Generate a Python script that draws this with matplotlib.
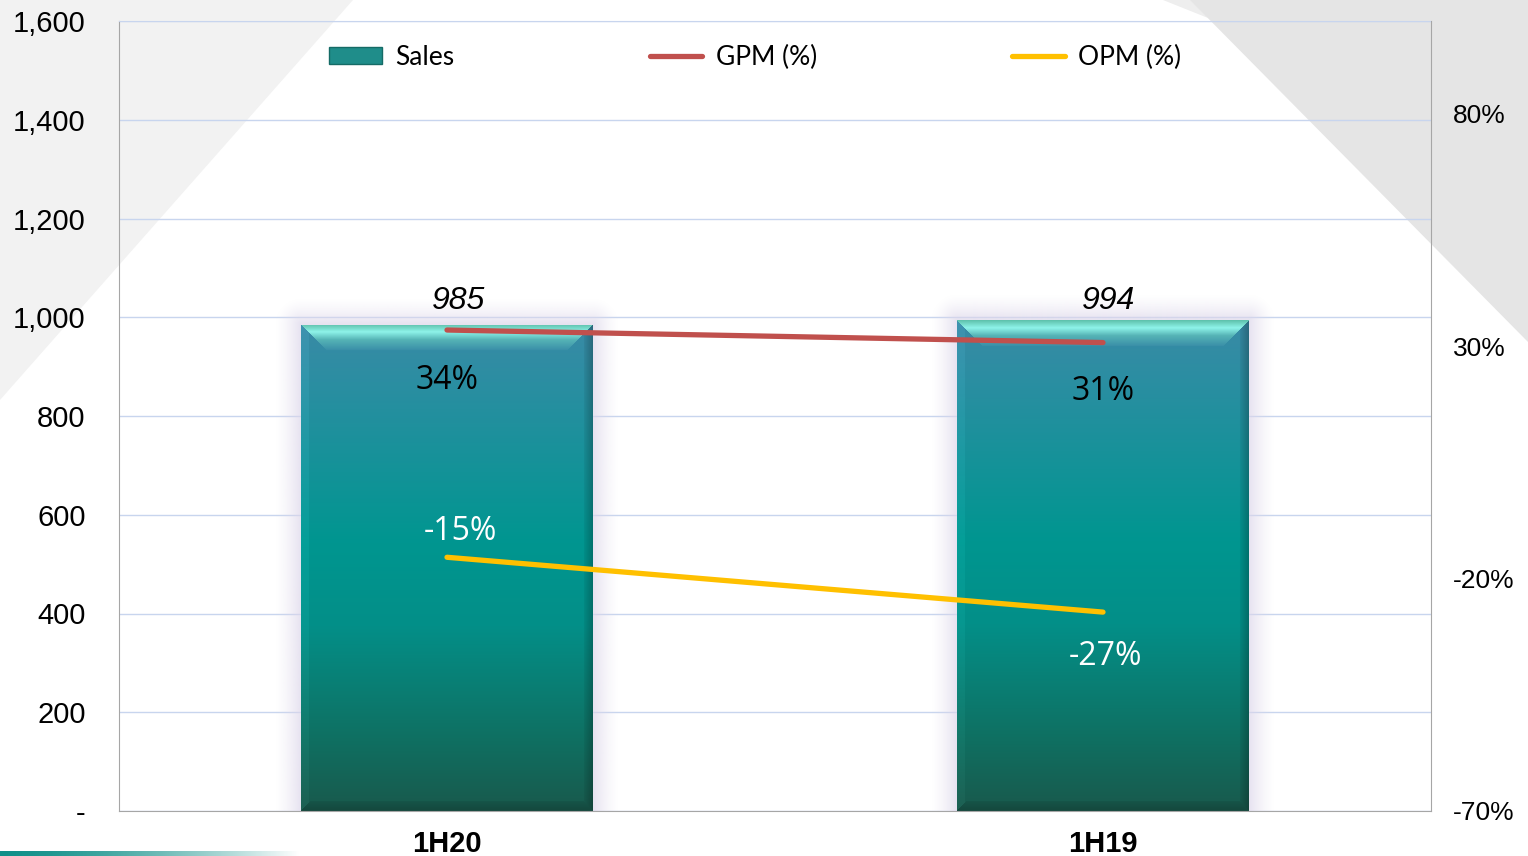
import numpy as np
import matplotlib
matplotlib.use("Agg")
import matplotlib.pyplot as plt
from matplotlib.patches import Polygon, Patch
from matplotlib.lines import Line2D
from matplotlib.colors import to_rgb
from matplotlib.ticker import FixedLocator, FuncFormatter

# ---------------- data ----------------
categories = ["1H20", "1H19"]
sales = [985, 994]
gpm = [33.5, 30.8]
opm = [-15.4, -27.2]
sales_labels = ["985", "994"]
gpm_labels = ["34%", "31%"]
opm_labels = ["-15%", "-27%"]
left_ticks = [0, 200, 400, 600, 800, 1000, 1200, 1400, 1600]
right_ticks = [-70, -20, 30, 80]
right_limits = [-70, 100]
legend_labels = ["Sales", "GPM (%)", "OPM (%)"]

# ---------------- styles ----------------
W, H = 1528, 856
AX_L, AX_R, AX_T, AX_B = 119, 1431, 21, 811
GPM_COLOR = "#c0504d"
OPM_COLOR = "#ffc000"
TICK_FONT = "Liberation Sans"
LABEL_FONT = "Open Sans"
LEGEND_FONT = "Lato"

fig = plt.figure(figsize=(W / 100, H / 100), dpi=100)
fig.patch.set_facecolor("white")

# ---------------- background decoration ----------------
bg = fig.add_axes([0, 0, 1, 1], zorder=-10)
bg.axis("off")
bg.add_patch(Polygon([(0, 0), (353, 0), (0, 400)], closed=True, fc="#f2f2f2", ec="none"))
bg.add_patch(Polygon([(1163, 0), (1195, 0), (1208, 18)], closed=True, fc="#eeeeee", ec="none"))
bg.add_patch(Polygon([(1190, 0), (W, 0), (W, 342)], closed=True, fc="#e5e5e5", ec="none"))
stripe = np.zeros((1, 300, 4))
stripe[..., :3] = to_rgb("#0f8f88")
stripe[..., 3] = np.clip(1 - np.linspace(0, 1, 300) ** 1.5, 0, 1)
bg.imshow(stripe, extent=(0, 300, 856, 851), aspect="auto", interpolation="bilinear")
bg.set_xlim(0, W)
bg.set_ylim(H, 0)

# ---------------- main axes ----------------
ax = fig.add_axes([AX_L / W, (H - AX_B) / H, (AX_R - AX_L) / W, (AX_B - AX_T) / H])
ax.set_facecolor("none")
ax.set_xlim(-0.5, 1.5)
ax.set_ylim(left_ticks[0], left_ticks[-1])
ax.set_axisbelow(True)
ax.yaxis.set_major_locator(FixedLocator(left_ticks))
ax.yaxis.set_major_formatter(FuncFormatter(lambda v, p: "-" if v == 0 else f"{int(v):,}"))
ax.grid(axis="y", color="#c8d5ee", lw=1)
ax.tick_params(axis="y", length=0, pad=24, labelsize=21)
ax.tick_params(axis="x", length=0, pad=14, labelsize=21)
x = np.arange(len(categories))
ax.set_xticks(x)
ax.set_xticklabels(categories, fontweight="bold")
for lab in ax.get_xticklabels() + ax.get_yticklabels():
    lab.set_fontfamily(TICK_FONT)
for s in ["left", "bottom"]:
    ax.spines[s].set_color("#a6a6a6")
ax.spines["top"].set_color("#c8d5ee")
ax.spines["right"].set_visible(False)

bars = ax.bar(x, sales, width=0.444, color="none", edgecolor="none", zorder=2)


def lerp_stops(t, stops):
    pos = np.array([s[0] for s in stops])
    cols = np.array([to_rgb(s[1]) for s in stops])
    out = np.zeros(t.shape + (3,))
    for c in range(3):
        out[..., c] = np.interp(t, pos, cols[:, c])
    return out


def bar_image(wpx, hpx):
    yy, xx = np.mgrid[0:hpx, 0:wpx] + 0.5
    t = yy / hpx
    body = lerp_stops(t, [(0, "#3a8aa6"), (0.12, "#2b8ea2"), (0.45, "#009690"),
                          (0.62, "#038f88"), (0.85, "#0f7062"), (1, "#19594c")])
    img = body.copy()
    b = 26.0
    dt, db, dl, dr = yy, hpx - yy, xx, wpx - xx
    m = np.minimum.reduce([dt, db, dl, dr])
    top = (dt == m) & (dt < b)
    s = dt / b
    topcol = lerp_stops(s, [(0, "#5cbfa9"), (0.3, "#8ef3e9"), (0.6, "#56b4b6"), (1, "#3a8fa8")])
    img[top] = topcol[top]
    left = (dl == m) & (dl < 8) & ~top
    img[left] = np.clip(body[left] * 1.03 + 0.015, 0, 1)
    right = (dr == m) & (dr < 9) & ~top
    img[right] = body[right] * (0.75 + 0.2 * (dr[right] / 9))[:, None]
    bot = (db == m) & (db < 10) & ~top
    img[bot] = body[bot] * (0.8 + 0.12 * (db[bot] / 10))[:, None]
    return img


def glow_image(wpx, hpx, mg):
    tw, th = wpx + 2 * mg, hpx + mg
    yy, xx = np.mgrid[0:th, 0:tw] + 0.5
    dx = np.maximum(np.maximum(mg - xx, xx - (mg + wpx)), 0)
    dy = np.maximum(mg - yy, 0)
    d = np.hypot(dx, dy)
    a = np.where(d > 0, 0.7 * np.clip(1 - d / mg, 0, 1) ** 1.4, 0.7)
    img = np.zeros((th, tw, 4))
    img[..., :3] = np.array([220, 214, 234]) / 255
    img[..., 3] = a
    return img


ppx = (AX_R - AX_L) / (ax.get_xlim()[1] - ax.get_xlim()[0])
ppy = (AX_B - AX_T) / (ax.get_ylim()[1] - ax.get_ylim()[0])
MG = 26
for b in bars:
    x0, w, h = b.get_x(), b.get_width(), b.get_height()
    wpx, hpx = int(round(w * ppx)), int(round(h * ppy))
    ax.imshow(glow_image(wpx, hpx, MG), extent=(x0 - MG / ppx, x0 + w + MG / ppx, 0, h + MG / ppy),
              aspect="auto", zorder=1.5, interpolation="bilinear")
    im = ax.imshow(bar_image(wpx, hpx), extent=(x0, x0 + w, 0, h), aspect="auto",
                   zorder=2, interpolation="bilinear")
    im.set_clip_path(b)
ax.set_xlim(-0.5, 1.5)
ax.set_ylim(left_ticks[0], left_ticks[-1])

# sales labels
sales_offsets = [(8, 17), (4, 14)]
for xi, v, lab, off in zip(x, sales, sales_labels, sales_offsets):
    ax.annotate(lab, (xi, v), xytext=off, textcoords="offset points", ha="center", va="center",
                fontsize=23, fontstyle="italic", fontfamily=TICK_FONT, color="black", zorder=5)

# ---------------- right axis ----------------
ax2 = ax.twinx()
ax2.set_ylim(*right_limits)
ax2.yaxis.set_major_locator(FixedLocator(right_ticks))
ax2.yaxis.set_major_formatter(FuncFormatter(lambda v, p: f"{int(v)}%"))
ax2.tick_params(axis="y", length=0, pad=16, labelsize=19)
for lab in ax2.get_yticklabels():
    lab.set_fontfamily(TICK_FONT)
for s in ["left", "bottom", "top"]:
    ax2.spines[s].set_visible(False)
ax2.spines["right"].set_color("#a6a6a6")

ax2.plot(x, gpm, color=GPM_COLOR, lw=3.8, solid_capstyle="round", zorder=3)
ax2.plot(x, opm, color=OPM_COLOR, lw=3.8, solid_capstyle="round", zorder=3)

gpm_offsets = [(0, -36.5), (0, -35.5)]
for xi, v, lab, off in zip(x, gpm, gpm_labels, gpm_offsets):
    ax2.annotate(lab, (xi, v), xytext=off, textcoords="offset points", ha="center", va="center",
                 fontsize=23, fontfamily=LABEL_FONT, color="black", zorder=5)
opm_offsets = [(10, 18.5), (1.5, -32)]
for xi, v, lab, off in zip(x, opm, opm_labels, opm_offsets):
    ax2.annotate(lab, (xi, v), xytext=off, textcoords="offset points", ha="center", va="center",
                 fontsize=23, fontfamily=LABEL_FONT, color="white", zorder=5)

handles = [Patch(fc="#1f8d8a", ec="#156b66", lw=1),
           Line2D([], [], color=GPM_COLOR, lw=3.8, solid_capstyle="round"),
           Line2D([], [], color=OPM_COLOR, lw=3.8, solid_capstyle="round")]
ax2.legend(handles, legend_labels, ncol=3, loc="center", bbox_to_anchor=(0.4850, 0.954),
           frameon=False, prop={"family": LEGEND_FONT, "size": 19}, handlelength=2.0,
           columnspacing=7.4, handletextpad=0.5, handleheight=0.6)

fig.savefig("out.png", dpi=100)
